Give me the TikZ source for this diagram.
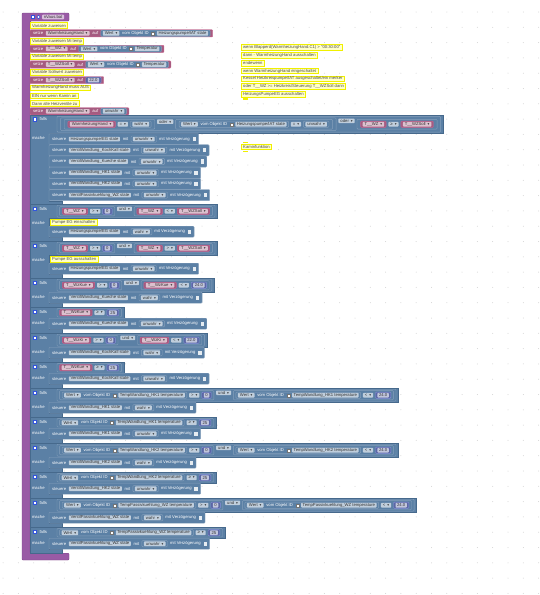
\documentclass[tikz,border=0pt]{standalone}
\usepackage{fontspec}
\setmainfont{Liberation Sans}
\newfontfamily\symf{DejaVu Sans}
\pgfdeclarelayer{bgl}
\pgfdeclarelayer{L0}\pgfdeclarelayer{L1}\pgfdeclarelayer{L2}\pgfdeclarelayer{L3}\pgfdeclarelayer{L4}
\pgfsetlayers{bgl,L0,L1,L2,L3,L4,main}
\definecolor{purp}{HTML}{995BA5}
\definecolor{purpd}{HTML}{7E4689}
\definecolor{logic}{HTML}{5B80A5}
\definecolor{logicb}{HTML}{86A0BC}
\definecolor{logicd}{HTML}{46698C}
\definecolor{varf}{HTML}{A55B80}
\definecolor{vard}{HTML}{C9638F}
\definecolor{numf}{HTML}{5B67A5}
\definecolor{numd}{HTML}{8790D8}
\definecolor{cmtf}{HTML}{FFFFC8}
\definecolor{cmtb}{HTML}{F0F000}
\definecolor{dotc}{HTML}{D2D2D2}
\definecolor{fldtxt}{HTML}{333333}
\definecolor{gearc}{HTML}{3355DD}
\newcommand\fs{\fontsize{4.2}{4.6}\selectfont}
\newdimen\cx \newdimen\tmpd
\def\cy{0}
\def\gp{2.1pt}
\def\pd{2.6pt}
\def\pdc{2.6pt}
\newcommand\startat[2]{\global\cx=#1pt\xdef\cy{#2}}
\newcommand\itm[2]{%
  \pgfmathsetmacro\cxn{\cx}%
  \node[#1,anchor=west] (it) at (\cxn,\cy) {#2};%
  \pgfextractx{\tmpd}{\pgfpointanchor{it}{east}}%
  \global\cx=\tmpd\relax
  \global\advance\cx by \gp\relax}
\newcommand\bo[1]{\expandafter\xdef\csname bs#1\endcsname{\the\cx}\global\advance\cx by \pd\relax}
\newcommand\bc[4]{%
  \global\advance\cx by -\gp\relax
  \global\advance\cx by \pd\relax
  \pgfmathsetmacro\xa{\csname bs#1\endcsname}%
  \pgfmathsetmacro\xb{\cx}%
  \begin{pgfonlayer}{L#1}
    \draw[fill=#2,draw=#3,line width=.4pt,rounded corners=.9pt] (\xa,\cy-#4) rectangle (\xb,\cy+#4);
  \end{pgfonlayer}
  \global\advance\cx by \gp\relax}
\newcommand\lab[2][]{\itm{lbl,#1}{#2}}
\newcommand\fld[1]{\itm{fld}{#1}}
\newcommand\dd[2][]{\itm{fld,inner xsep=2pt,#1}{#2\hspace{2pt}{\symf\fontsize{3.6}{3.6}\selectfont ▾}}}
\newcommand\chk{\itm{chk}{}}
\newcommand\ico{\itm{ico}{}}
\newcommand\varbk[2]{\def\pd{1.8pt}\bo{#1}\dd{#2}\bc{#1}{varf}{vard}{3.1}\def\pd{\pdc}}
\newcommand\numbk[2]{\def\pd{1.8pt}\bo{#1}\fld{#2}\bc{#1}{numf}{numd}{3.1}\def\pd{\pdc}}
\newcommand\boolbk[2]{\def\pd{1.8pt}\bo{#1}\dd{#2}\bc{#1}{logic}{logicb}{3.1}\def\pd{\pdc}}
\newcommand\valbk[2]{\def\pd{1.8pt}\bo{#1}\dd{Wert}\lab{vom Objekt ID}\ico\fld{#2}\bc{#1}{logic}{logicb}{3.1}\def\pd{\pdc}}
\newcommand\cmt[3]{\node[cmt,anchor=west] at (#1,#2) {#3};}
\newcommand\setzeA[3]{\startat{30}{#1}\bo{0}\lab{setze}\dd{#2}\lab{auf}#3\bc{0}{varf}{vard}{3.6}}
\newcommand\steuere[4]{\startat{49}{#1}\bo{1}\lab{steuere}\fld{#3}\lab{mit}\boolbk{2}{#4}\lab{mit Verzögerung}\chk\bc{1}{logic}{logicb}{#2}}
\newcommand\fallsC[4]{%
  \begin{pgfonlayer}{L0}
  \draw[fill=logic,draw=logicd,line width=.4pt] (30,#1) -- (#4,#1) -- (#4,#2) -- (49,#2) -- (49,#3) -- (62,#3) -- (62,#3+4) -- (30,#3+4) -- cycle;
  \end{pgfonlayer}
  \node[gear] at (35,#1+4.3) {};
  \node[lbl,anchor=west] at (39,#1+4.3) {falls};
  \node[lbl,anchor=west] at (31.5,#2+4.3) {mache};}
\newcommand\undhdr[7]{\startat{57}{#1}\bo{1}\bo{2}#2\dd{#3}#4\bc{2}{logic}{logicb}{4.6}\dd[yshift=2.4pt]{und}\bo{2}#5\dd{#6}#7\bc{2}{logic}{logicb}{4.6}\bc{1}{logic}{logicb}{6}\pgfmathsetmacro\hdrR{\cx+0.5}}
\newcommand\onehdr[4]{\startat{57}{#1}\bo{1}#2\dd{#3}#4\bc{1}{logic}{logicb}{4.3}\pgfmathsetmacro\hdrR{\cx+0.5}}
\begin{document}
\begin{tikzpicture}[x=1pt,y=-1pt,
  lbl/.style={text=white,font=\fs,inner sep=.3pt},
  fld/.style={fill=white,fill opacity=.62,text opacity=1,text=fldtxt,font=\fs,inner xsep=1.6pt,inner ysep=0pt,minimum height=4.6pt,rounded corners=.7pt},
  chk/.style={fill=white,fill opacity=.85,minimum width=3.4pt,minimum height=4.2pt,inner sep=0pt},
  ico/.style={fill=white,draw=black!55,line width=.25pt,minimum size=3pt,inner sep=0pt},
  cmt/.style={fill=cmtf,draw=cmtb,line width=.8pt,text=black!70,font=\fs,inner xsep=1.8pt,inner ysep=0pt,minimum height=5.6pt},
  gear/.style={fill=white,draw=gearc,line width=.7pt,minimum size=3.2pt,inner sep=0pt}]
\useasboundingbox (0,0) rectangle (540,595);
\begin{pgfonlayer}{bgl}
\fill[white] (0,0) rectangle (540,595);
\foreach \i in {0,...,35}{\foreach \j in {0,...,38}{\fill[dotc] (3.1+15.3*\i,12+15.3*\j) circle (.5);}}
\end{pgfonlayer}
% outer purple block
\begin{pgfonlayer}{L0}
\draw[fill=purp,draw=purpd,line width=.4pt,rounded corners=1pt] (22,13) -- (69,13) -- (69,21) -- (30,21) -- (30,553.2) -- (69,553.2) -- (69,560) -- (22,560) -- cycle;
\end{pgfonlayer}
\node[gear] (hg) at (33,17) {};
\node[circle,fill=white,draw=gearc,line width=.6pt,minimum size=3.4pt,inner sep=0pt] (hq) at (38.5,17) {};
\startat{42}{17}\fld{nVaus.bat}
% top section
\cmt{30}{25.5}{Variable zuweisen}
\setzeA{33.3}{WarmheizungHand}{\valbk{1}{Heizungspumpe/IAT state}}
\cmt{30}{41.1}{Variable zuweisen Mi temp}
\setzeA{48.9}{T\_\_WZ}{\valbk{1}{Temperatur}}
\cmt{30}{56.7}{Variable zuweisen Mi temp}
\setzeA{64.5}{T\_\_WZSoll}{\valbk{1}{Temperatur}}
\cmt{30}{72.3}{Variable Sollwert zuweisen}
\setzeA{80.1}{T\_\_WZSoll}{\numbk{1}{22.0}}
\cmt{30}{87.9}{WarmheizungHand muss AUS}
\cmt{30}{95.7}{EIN nur wenn Kamin an}
\cmt{30}{103.5}{Dann alle Heizventile zu}
\setzeA{111.3}{WarmheizungHand}{\boolbk{1}{unwahr}}
% falls 1
\def\pdc{3.6pt}\def\pd{3.6pt}
\startat{57}{124.25}
\bo{1}\bo{2}\bo{3}\varbk{4}{WarmheizungHand}\dd{=}\boolbk{4}{wahr}\bc{3}{logic}{logicb}{4.9}%
\dd[yshift=2.6pt]{oder}%
\bo{3}\valbk{4}{Heizungspumpe/IAT state}\dd{=}\boolbk{4}{unwahr}\bc{3}{logic}{logicb}{4.9}%
\bc{2}{logic}{logicb}{6.4}%
\dd[yshift=3.4pt]{oder}%
\bo{2}\varbk{3}{T\_\_WZ}\dd{≥}\varbk{3}{T\_\_WZSoll}\bc{2}{logic}{logicb}{4.9}%
\bc{1}{logic}{logicb}{7.9}%
\pgfmathsetmacro\hdrR{\cx+0.5}
\def\pdc{2.6pt}\def\pd{2.6pt}
\fallsC{115}{133.5}{200.7}{\hdrR}
\steuere{139.1}{5.6}{Heizungspumpe/EG state}{unwahr}
\steuere{150.3}{5.6}{VentilWandlung\_KochKall state}{unwahr}
\steuere{161.5}{5.6}{VentilWandlung\_Kueche state}{unwahr}
\steuere{172.7}{5.6}{VentilWandlung\_HK1 state}{unwahr}
\steuere{183.9}{5.6}{VentilWandlung\_HK2 state}{unwahr}
\steuere{195.1}{5.6}{VentilPassivkuehlung\_WZ state}{unwahr}
% falls 2
\undhdr{211.2}{\varbk{3}{T\_\_WZ}}{>}{\numbk{3}{0}}{\varbk{3}{T\_\_WZ}}{<}{\varbk{3}{T\_\_WZSoll}}
\fallsC{204.2}{218.2}{237.2}{\hdrR}
\cmt{50}{222.2}{Pumpe EG einschalten}
\steuere{231.7}{5.5}{Heizungspumpe/EG state}{wahr}
% falls 3
\undhdr{248.2}{\varbk{3}{T\_\_WZ}}{>}{\numbk{3}{0}}{\varbk{3}{T\_\_WZ}}{>}{\varbk{3}{T\_\_WZSoll}}
\fallsC{241.2}{255.2}{274.2}{\hdrR}
\cmt{50}{259.2}{Pumpe EG ausschalten}
\steuere{268.7}{5.5}{Heizungspumpe/EG state}{unwahr}
% falls 4
\undhdr{285.2}{\varbk{3}{T\_\_WzKue}}{>}{\numbk{3}{0}}{\varbk{3}{T\_\_WzKue}}{<}{\numbk{3}{24.0}}
\fallsC{278.2}{292.2}{303.2}{\hdrR}
\steuere{297.7}{5.5}{VentilWandlung\_Kueche state}{wahr}
% falls 5
\onehdr{312.7}{\varbk{2}{T\_\_WzKue}}{≥}{\numbk{2}{25}}
\fallsC{307.2}{318.2}{329.2}{\hdrR}
\steuere{323.7}{5.5}{VentilWandlung\_Kueche state}{unwahr}
% falls 6
\undhdr{340.2}{\varbk{3}{T\_\_WzKi}}{>}{\numbk{3}{0}}{\varbk{3}{T\_\_WzKi}}{<}{\numbk{3}{22.0}}
\fallsC{333.2}{347.2}{358.2}{\hdrR}
\steuere{352.7}{5.5}{VentilWandlung\_KochKall state}{wahr}
% falls 7
\onehdr{367.7}{\varbk{2}{T\_\_WzKue}}{≥}{\numbk{2}{25}}
\fallsC{362.2}{373.2}{384.2}{\hdrR}
\steuere{378.7}{5.5}{VentilWandlung\_KochKall state}{unwahr}
% falls 8
\undhdr{395.2}{\valbk{3}{TempWandlung\_HK1 temperature}}{>}{\numbk{3}{0}}{\valbk{3}{TempWandlung\_HK1 temperature}}{<}{\numbk{3}{24.0}}
\fallsC{388.2}{402.2}{413.2}{\hdrR}
\steuere{407.7}{5.5}{VentilWandlung\_HK1 state}{wahr}
% falls 9
\onehdr{422.7}{\valbk{2}{TempWandlung\_HK1 temperature}}{≥}{\numbk{2}{25}}
\fallsC{417.2}{428.2}{439.2}{\hdrR}
\steuere{433.7}{5.5}{VentilWandlung\_HK1 state}{unwahr}
% falls 10
\undhdr{450.2}{\valbk{3}{TempWandlung\_HK2 temperature}}{>}{\numbk{3}{0}}{\valbk{3}{TempWandlung\_HK2 temperature}}{<}{\numbk{3}{24.0}}
\fallsC{443.2}{457.2}{468.2}{\hdrR}
\steuere{462.7}{5.5}{VentilWandlung\_HK2 state}{wahr}
% falls 11
\onehdr{477.7}{\valbk{2}{TempWandlung\_HK2 temperature}}{≥}{\numbk{2}{25}}
\fallsC{472.2}{483.2}{494.2}{\hdrR}
\steuere{488.7}{5.5}{VentilWandlung\_HK2 state}{unwahr}
% falls 12
\undhdr{505.2}{\valbk{3}{TempPassivkuehlung\_WZ temperature}}{>}{\numbk{3}{0}}{\valbk{3}{TempPassivkuehlung\_WZ temperature}}{<}{\numbk{3}{24.0}}
\fallsC{498.2}{512.2}{523.2}{\hdrR}
\steuere{517.7}{5.5}{VentilPassivkuehlung\_WZ state}{wahr}
% falls 13
\onehdr{532.7}{\valbk{2}{TempPassivkuehlung\_WZ temperature}}{≥}{\numbk{2}{25}}
\fallsC{527.2}{538.2}{549.2}{\hdrR}
\steuere{543.7}{5.5}{VentilPassivkuehlung\_WZ state}{unwahr}
% right comments
\cmt{241}{47.4}{wenn Blapperd(WarmheizungHand.C1) > "00:30:00"}
\cmt{241}{55.25}{dann - WarmheizungHand ausschalten}
\cmt{241}{63.1}{endewenn}
\cmt{241}{70.95}{wenn WarmheizungHand eingeschaltet}
\cmt{241}{78.8}{Kessel Heizkreispumpe/IAT ausgeschaltet/ein merker}
\cmt{241}{86.65}{oder T\_\_WZ >= Heizkreis/Steuerung T\_\_WZSoll dann}
\cmt{241}{94.5}{HeizungsPumpeEG ausschalten}
\fill[cmtb] (243,98) rectangle (248,100);
\fill[cmtb] (243,141.6) rectangle (248,143.4);
\cmt{241}{147}{Kaminfunktion}
\fill[cmtb] (243,150.6) rectangle (248,152.2);
\end{tikzpicture}
\end{document}
